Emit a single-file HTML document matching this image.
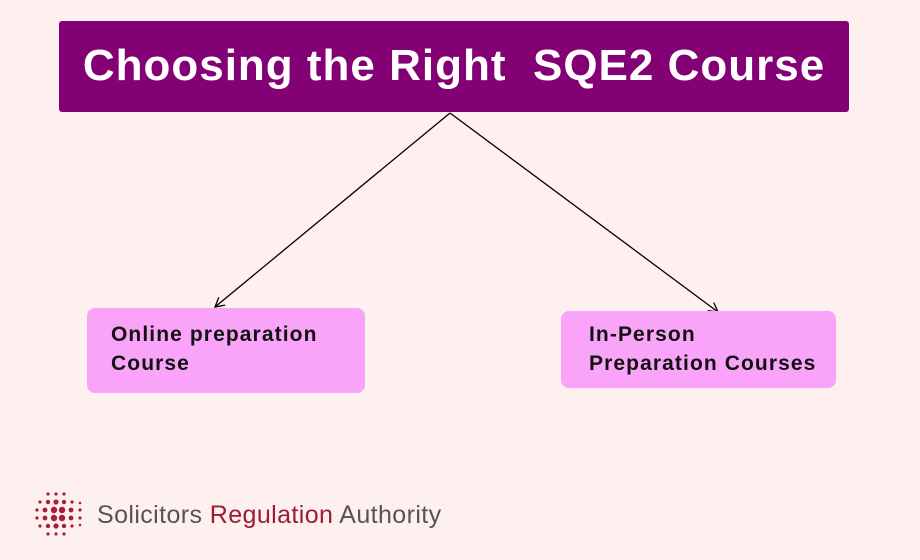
<!DOCTYPE html>
<html><head><style>
body{margin:0;width:920px;height:560px;background:#fef0ee;position:relative;overflow:hidden;font-family:"Liberation Sans",sans-serif}
.h{position:absolute;left:59px;top:21px;width:790px;height:91px;background:#840075;border-radius:3px;color:#fff;font-weight:bold;font-size:44px;text-align:center;line-height:90px;letter-spacing:1px;white-space:pre}
.b{position:absolute;background:#f9a3f9;border-radius:8px;font-weight:bold;font-size:21px;line-height:29px;color:#111;letter-spacing:1.1px}
.logo{position:absolute;left:97px;top:501px;font-size:25px;color:#555;letter-spacing:0.4px}
</style></head><body>
<div class="h">Choosing the Right  SQE2 Course</div>
<svg width="920" height="560" style="position:absolute;left:0;top:0">
<defs><marker id="a" markerWidth="12" markerHeight="12" refX="10" refY="6" orient="auto" markerUnits="userSpaceOnUse"><path d="M1,1 L10,6 L1,11" fill="none" stroke="#000" stroke-width="1.3"/></marker></defs>
<line x1="450" y1="113" x2="215" y2="307" stroke="#000" stroke-width="1.3" marker-end="url(#a)"/>
<line x1="450" y1="113" x2="718" y2="312" stroke="#000" stroke-width="1.3" marker-end="url(#a)"/>
<g fill="#a51f3a">
<circle cx="48" cy="494" r="1.6"/><circle cx="56" cy="494" r="1.6"/><circle cx="64" cy="494" r="1.6"/>
<circle cx="40" cy="502" r="1.6"/><circle cx="48" cy="502" r="2.2"/><circle cx="56" cy="502" r="2.6"/><circle cx="64" cy="502" r="2.2"/><circle cx="72" cy="502" r="1.6"/><circle cx="80" cy="503" r="1.3"/>
<circle cx="37" cy="510" r="1.6"/><circle cx="45" cy="510" r="2.4"/><circle cx="54" cy="510" r="3.2"/><circle cx="62" cy="510" r="3.2"/><circle cx="71" cy="510" r="2.4"/><circle cx="80" cy="510" r="1.6"/>
<circle cx="37" cy="518" r="1.6"/><circle cx="45" cy="518" r="2.4"/><circle cx="54" cy="518" r="3.2"/><circle cx="62" cy="518" r="3.2"/><circle cx="71" cy="518" r="2.4"/><circle cx="80" cy="518" r="1.6"/>
<circle cx="40" cy="526" r="1.6"/><circle cx="48" cy="526" r="2.2"/><circle cx="56" cy="526" r="2.6"/><circle cx="64" cy="526" r="2.2"/><circle cx="72" cy="526" r="1.6"/><circle cx="80" cy="525" r="1.3"/>
<circle cx="48" cy="534" r="1.6"/><circle cx="56" cy="534" r="1.6"/><circle cx="64" cy="534" r="1.6"/>
</g>
</svg>
<div class="b" style="left:87px;top:308px;width:278px;height:85px"><div style="position:absolute;left:24px;top:12px">Online preparation<br>Course</div></div>
<div class="b" style="left:561px;top:311px;width:275px;height:77px"><div style="position:absolute;left:28px;top:9px">In-Person<br>Preparation Courses</div></div>
<div class="logo">Solicitors <span style="color:#9b1c35">Regulation</span> Authority</div>
</body></html>
